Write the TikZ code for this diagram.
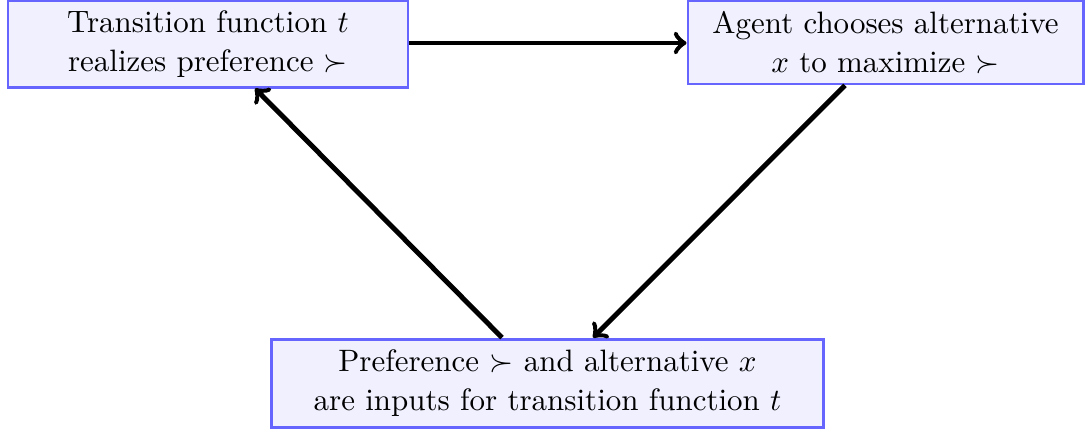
\documentclass[tikz,border=0pt]{standalone}
\usepackage{amsmath,amssymb}
\begin{document}
\begin{tikzpicture}[x=0.323pt,y=-0.323pt,
  box/.style={draw=blue!60,fill=blue!6,line width=0.95pt,align=center,inner sep=0pt},
  arr/.style={->,ultra thick}]
\useasboundingbox (0,0) rectangle (1085,431);
\node[box,minimum width=129.2pt,minimum height=27.8pt] (tl) at (208,44) {Transition function $t$\\[0.6pt]realizes preference $\succ$};
\node[box,minimum width=127.6pt,minimum height=26.8pt] (tr) at (885.5,42.5) {Agent chooses alternative\\[0.6pt]$x$ to maximize $\succ$};
\node[box,minimum width=178pt,minimum height=28.7pt] (bt) at (547.5,383.5) {Preference $\succ$ and alternative $x$\\[0.6pt]are inputs for transition function $t$};
\draw[arr] (tl.east |- 0,43) -- (tr.west |- 0,43);
\draw[arr] ([xshift=-13.1pt]tr.south) -- ([xshift=14.7pt]bt.north);
\draw[arr] ([xshift=-14.7pt]bt.north) -- ([xshift=15.2pt]tl.south);
\end{tikzpicture}
\end{document}
